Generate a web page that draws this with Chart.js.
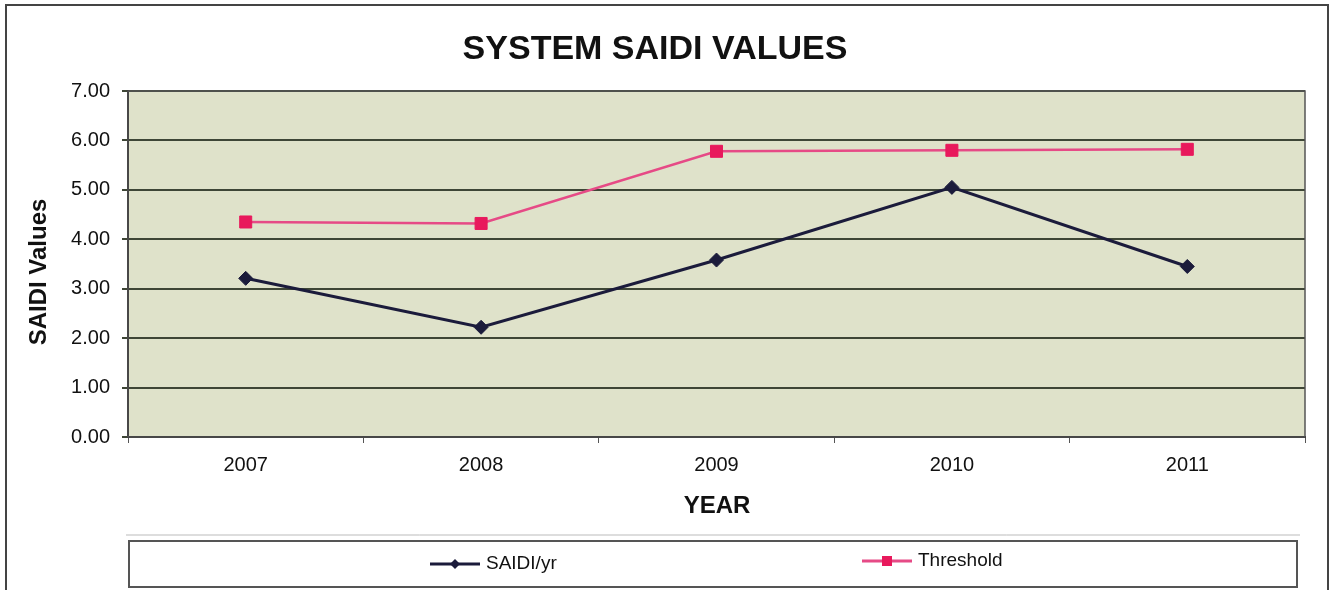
<!DOCTYPE html>
<html>
<head>
<meta charset="utf-8">
<title>System SAIDI Values</title>
<script src="https://cdn.jsdelivr.net/npm/chart.js@4/dist/chart.umd.min.js"></script>
<style>
  html, body { margin: 0; padding: 0; background: #fff; }
  #wrap { width: 1333px; height: 590px; position: relative; }
</style>
</head>
<body>
<div id="wrap"><canvas id="chart" width="1333" height="590"></canvas></div>
<script>
// Chart data
const years = ["2007", "2008", "2009", "2010", "2011"];
const saidiValues = [3.21, 2.22, 3.58, 5.05, 3.45];
const thresholdValues = [4.35, 4.32, 5.78, 5.80, 5.82];

const chartTitle = "SYSTEM SAIDI VALUES";
const xTitle = "YEAR";
const yTitle = "SAIDI Values";

const FONT = "'Liberation Sans', Arial, sans-serif";
const SAIDI_COLOR = "#1b1b3b";
const THRESH_LINE = "#e64a86";
const THRESH_POINT = "#e8195c";

// Plot background, frame, titles and legend box
const decorPlugin = {
  id: "decor",
  beforeDraw(chart) {
    const { ctx, chartArea: a } = chart;
    ctx.save();
    // outer frame
    ctx.strokeStyle = "#444";
    ctx.lineWidth = 2;
    ctx.beginPath();
    ctx.moveTo(6, 590);
    ctx.lineTo(6, 5);
    ctx.lineTo(1328, 5);
    ctx.lineTo(1328, 590);
    ctx.stroke();
    // plot area fill
    ctx.fillStyle = "#dfe2ca";
    ctx.fillRect(a.left, a.top, a.right - a.left, a.bottom - a.top);
    ctx.restore();
  },
  afterDraw(chart) {
    const { ctx, chartArea: a } = chart;
    ctx.save();
    // plot border right side
    ctx.strokeStyle = "#555";
    ctx.lineWidth = 1.5;
    ctx.strokeRect(a.left, a.top, a.right - a.left, a.bottom - a.top);

    // title
    ctx.fillStyle = "#111";
    ctx.textAlign = "center";
    ctx.textBaseline = "middle";
    ctx.font = "bold 34px " + FONT;
    ctx.fillText(chartTitle, 655, 50);

    // axis titles
    ctx.font = "bold 24px " + FONT;
    ctx.fillText(xTitle, 717, 506);
    ctx.save();
    ctx.translate(39, 272);
    ctx.rotate(-Math.PI / 2);
    ctx.fillText(yTitle, 0, 0);
    ctx.restore();

    // legend box
    ctx.strokeStyle = "#bbb";
    ctx.lineWidth = 1;
    ctx.beginPath();
    ctx.moveTo(126, 535);
    ctx.lineTo(1300, 535);
    ctx.stroke();
    ctx.strokeStyle = "#555";
    ctx.lineWidth = 2;
    ctx.strokeRect(129, 541, 1168, 46);

    // legend items
    const items = chart.data.datasets.map((ds, i) => ({
      label: ds.label,
      line: ds.borderColor,
      point: ds.pointBackgroundColor,
      style: ds.pointStyle,
      x: i === 0 ? 430 : 862,
      y: i === 0 ? 564 : 561,
    }));
    ctx.font = "19px " + FONT;
    ctx.textAlign = "left";
    items.forEach((it) => {
      ctx.strokeStyle = it.line;
      ctx.lineWidth = 3;
      ctx.beginPath();
      ctx.moveTo(it.x, it.y);
      ctx.lineTo(it.x + 50, it.y);
      ctx.stroke();
      ctx.fillStyle = it.point;
      const cx = it.x + 25;
      if (it.style === "rectRot") {
        ctx.beginPath();
        ctx.moveTo(cx, it.y - 5);
        ctx.lineTo(cx + 5, it.y);
        ctx.lineTo(cx, it.y + 5);
        ctx.lineTo(cx - 5, it.y);
        ctx.closePath();
        ctx.fill();
      } else {
        ctx.fillRect(cx - 5, it.y - 5, 10, 10);
      }
      ctx.fillStyle = "#111";
      ctx.fillText(it.label, it.x + 56, it.y);
    });
    ctx.restore();
  },
};

const ctx = document.getElementById("chart");

new Chart(ctx, {
  type: "line",
  data: {
    labels: years,
    datasets: [
      {
        label: "SAIDI/yr",
        data: saidiValues,
        borderColor: SAIDI_COLOR,
        borderWidth: 3,
        pointStyle: "rectRot",
        pointRadius: 7,
        pointBackgroundColor: SAIDI_COLOR,
        pointBorderColor: SAIDI_COLOR,
        pointBorderWidth: 1,
        tension: 0,
      },
      {
        label: "Threshold",
        data: thresholdValues,
        borderColor: THRESH_LINE,
        borderWidth: 2.5,
        pointStyle: "rect",
        pointRadius: 8.5,
        pointBackgroundColor: THRESH_POINT,
        pointBorderColor: THRESH_POINT,
        pointBorderWidth: 1,
        tension: 0,
      },
    ],
  },
  options: {
    responsive: false,
    animation: false,
    layout: { padding: { top: 91, left: 0, right: 28, bottom: 0 } },
    plugins: {
      legend: { display: false },
      title: { display: false },
      tooltip: { enabled: false },
    },
    scales: {
      x: {
        offset: true,
        grid: {
          offset: true,
          drawOnChartArea: false,
          drawTicks: true,
          tickLength: 6,
          color: "#555",
        },
        border: { color: "#222", width: 2 },
        ticks: {
          color: "#111",
          font: { family: FONT, size: 20 },
          padding: 10,
          maxRotation: 0,
        },
        afterFit(scale) {
          scale.height = 153;
        },
      },
      y: {
        min: 0,
        max: 7,
        grid: {
          color: "#3e4636",
          lineWidth: 2,
          drawTicks: true,
          tickLength: 6,
        },
        border: { color: "#222", width: 2 },
        ticks: {
          stepSize: 1,
          color: "#111",
          font: { family: FONT, size: 20 },
          padding: 12,
          callback: (v) => Number(v).toFixed(2),
        },
        afterFit(scale) {
          scale.width = 128;
        },
      },
    },
  },
  plugins: [decorPlugin],
});
</script>
</body>
</html>
